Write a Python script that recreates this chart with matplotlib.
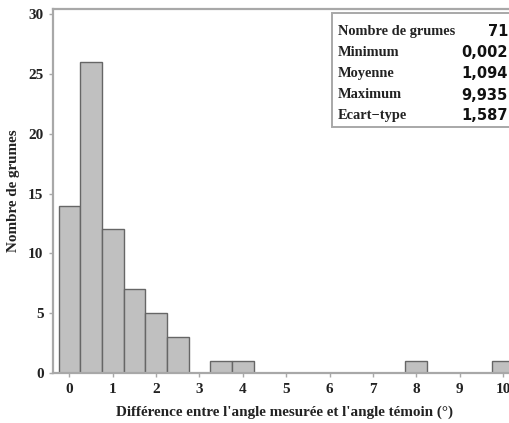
import numpy as np
import matplotlib.pyplot as plt
from matplotlib.patches import Rectangle

# histogram data (bins of 0.5 degree)
bin_centers = [0, 0.5, 1, 1.5, 2, 2.5, 3, 3.5, 4, 4.5, 5, 5.5, 6, 6.5, 7, 7.5, 8, 8.5, 9, 9.5, 10]
counts = [14, 26, 12, 7, 5, 3, 0, 1, 1, 0, 0, 0, 0, 0, 0, 0, 1, 0, 0, 0, 1]

stat_labels = ["Nombre de grumes", "Minimum", "Moyenne", "Maximum", "Ecart\u2212type"]
stat_values = ["71", "0,002", "1,094", "9,935", "1,587"]

serif = "Liberation Serif"
W, H = 510, 423

fig = plt.figure(figsize=(5.10, 4.23), dpi=100)
ax = fig.add_axes([53.3 / W, 1 - 373.3 / H, (516 - 53.3) / W, (373.3 - 9) / H])

ax.bar(bin_centers, counts, width=0.5, color="#c0c0c0", edgecolor="#666666", linewidth=1.0, zorder=2)

ax.set_xlim(-0.37, 10.3)
ax.set_ylim(0, 30.4)
ax.set_xticks(range(0, 11))
ax.set_yticks(range(0, 31, 5))

for s in ax.spines.values():
    s.set_color("#a8a8a8")
    s.set_linewidth(1.6)
ax.tick_params(direction="out", length=3, width=1, color="#a8a8a8", pad=4)
for lab in ax.get_xticklabels() + ax.get_yticklabels():
    lab.set_fontfamily(serif)
    lab.set_fontweight("bold")
    lab.set_fontsize(11)
    lab.set_color("#222222")

ax.set_xlabel("Diff\u00e9rence entre l'angle mesur\u00e9e et l'angle t\u00e9moin (\u00b0)",
              fontfamily=serif, fontweight="bold", fontsize=10.9, color="#222222", labelpad=7)
ax.set_ylabel("Nombre de grumes", fontfamily=serif, fontweight="bold", fontsize=10.9,
              color="#222222", labelpad=6)

# statistics box
box = Rectangle((332.3 / W, 1 - 126.7 / H), (512 - 332.3) / W, (126.7 - 13.3) / H,
                transform=fig.transFigure, facecolor="white", edgecolor="#a8a8a8",
                linewidth=1.4, zorder=5, clip_on=False)
fig.add_artist(box)
row_y = [31.7, 52.5, 73.5, 95, 116]
for lab, val, y in zip(stat_labels, stat_values, row_y):
    fig.text(338 / W, 1 - y / H, lab, fontfamily=serif, fontweight="bold", fontsize=10.4,
             color="#222222", va="center", ha="left", zorder=6)
    fig.text(508 / W, 1 - y / H, val, fontfamily="DejaVu Sans", fontweight="bold", fontsize=10.5,
             color="#111111", va="center", ha="right", zorder=6)

fig.savefig("out.png", dpi=100)
